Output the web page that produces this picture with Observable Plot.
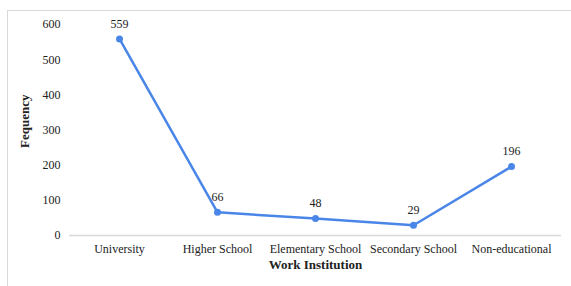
<!DOCTYPE html>
<html>
<head>
<meta charset="utf-8">
<script src="https://cdn.jsdelivr.net/npm/d3@7"></script>
<script src="https://cdn.jsdelivr.net/npm/@observablehq/plot@0.6"></script>
<style>
  html, body { margin: 0; padding: 0; background: #fff; overflow: hidden; }
  #wrap { position: relative; width: 571px; height: 286px; }
  #border { position: absolute; left: 7px; top: 10px; width: 620px; height: 400px; border: 1px solid #d9d9d9; box-sizing: border-box; }
  #chart { position: absolute; left: 0; top: 0; }
</style>
</head>
<body>
<div id="wrap"><div id="border"></div><div id="chart"></div></div>
<script>
const categories = ["University", "Higher School", "Elementary School", "Secondary School", "Non-educational"];
const frequencies = [559, 66, 48, 29, 196];
const yTicks = [0, 100, 200, 300, 400, 500, 600];
const xTitle = "Work Institution";
const yTitle = "Fequency";

const data = categories.map((c, i) => ({ category: c, value: frequencies[i] }));
const font = "'Liberation Serif', 'Times New Roman', serif";
const blue = "#4a86e8";

const chart = Plot.plot({
  width: 571,
  height: 286,
  marginLeft: 69,
  marginRight: 10,
  marginTop: 24,
  marginBottom: 51,
  style: { fontFamily: font, fontSize: "12px", color: "#222", background: "transparent" },
  x: { type: "band", domain: categories, padding: 0, label: null },
  y: { domain: [0, 600], ticks: yTicks, label: null },
  marks: [
    Plot.ruleY([0], { stroke: "#d9d9d9", strokeWidth: 1.5 }),
    Plot.axisY({ ticks: yTicks, tickSize: 0, tickPadding: 9, label: null, fontSize: 12 }),
    Plot.axisX({ tickSize: 0, tickPadding: 9, label: null, fontSize: 12 }),
    Plot.line(data, { x: "category", y: "value", stroke: blue, strokeWidth: 2.5 }),
    Plot.dot(data, { x: "category", y: "value", fill: blue, r: 3.5 }),
    Plot.text(data, { x: "category", y: "value", text: d => String(d.value), dy: -15, fontSize: 12, fill: "#222" }),
    Plot.text([xTitle], { frameAnchor: "bottom", dy: 33, fontWeight: "bold", fontSize: 13, fill: "#222" }),
    Plot.text([yTitle], { frameAnchor: "left", dx: -45, dy: 18, rotate: -90, fontWeight: "bold", fontSize: 13, fill: "#222" })
  ]
});
document.getElementById("chart").appendChild(chart);
</script>
</body>
</html>
